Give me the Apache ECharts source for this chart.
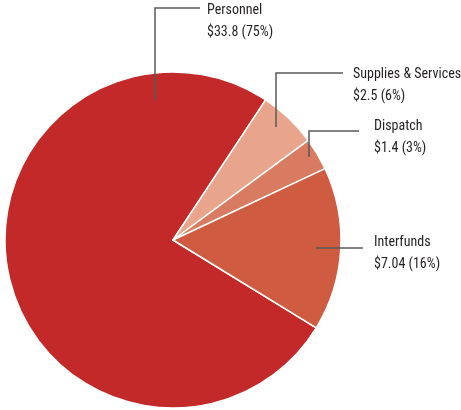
<!DOCTYPE html>
<html><head><meta charset="utf-8">
<script src="https://cdn.jsdelivr.net/npm/echarts@6/dist/echarts.min.js"></script>
<style>html,body{margin:0;padding:0;background:#fff}#c{width:461px;height:410px}</style>
</head><body><div id="c"></div>
<script>
var categories = ['Personnel', 'Supplies & Services', 'Dispatch', 'Interfunds'];
var values = [33.8, 2.5, 1.4, 7.04];
var colors = ['#c4292a', '#e8a58c', '#d97b60', '#cf5b41'];

// label layout: text anchor (x, y middle) and leader line points
var labelPlace = [
  {x: 207, y: 21, line: [[155, 100], [155, 8], [200, 8]]},
  {x: 353, y: 85, line: [[276, 127], [276, 73], [343, 73]]},
  {x: 374, y: 137, line: [[309, 157], [309, 131], [359, 131]]},
  {x: 374, y: 253, line: [[316, 248], [363, 248]]}
];

var pieData = categories.map(function (n, i) {
  return {name: n, value: values[i], itemStyle: {color: colors[i]}};
});

var chart = echarts.init(document.getElementById('c'));
chart.setOption({
  animation: false,
  graphic: labelPlace.map(function (l) {
    return {
      type: 'polyline', z: 100, silent: true,
      shape: {points: l.line},
      style: {stroke: '#58595b', lineWidth: 1.5, fill: null}
    };
  }),
  series: [{
    type: 'pie',
    center: [173, 240],
    radius: 168,
    startAngle: 328.5,
    clockwise: true,
    percentPrecision: 0,
    avoidLabelOverlap: false,
    emphasis: {disabled: true},
    silent: true,
    data: pieData,
    itemStyle: {borderColor: '#fff', borderWidth: 1.5},
    label: {
      show: true,
      position: 'outside',
      overflow: 'none',
      formatter: function (p) { return p.name + '\n$' + p.value + ' (' + p.percent + '%)'; },
      fontFamily: '"Roboto Condensed", sans-serif',
      fontSize: 14,
      lineHeight: 22,
      color: '#231f20',
      align: 'left'
    },
    labelLine: {show: false},
    labelLayout: function (p) {
      var l = labelPlace[p.dataIndex];
      return {x: l.x, y: l.y, align: 'left', verticalAlign: 'middle'};
    }
  }]
});
</script></body></html>
